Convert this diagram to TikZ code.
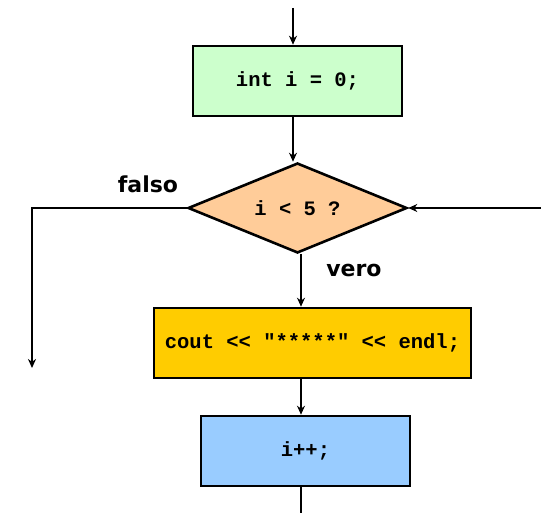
\documentclass[tikz,border=0pt]{standalone}
\usepackage{fontspec}
\setmainfont{DejaVu Sans}
\setmonofont{Liberation Mono}
\usetikzlibrary{shapes.geometric,arrows.meta}

\begin{document}
\begin{tikzpicture}[x=1pt, y=-1pt,
    >={Stealth[length=9pt,width=8pt]},
    stmt/.style={draw, rectangle, line width=2.6pt, minimum height=70pt,
      font=\fontsize{20.5}{23}\selectfont\ttfamily\bfseries},
    test/.style={draw, diamond, aspect=2.4, line width=2.6pt, minimum width=219pt,
      minimum height=90pt, inner sep=0pt,
      font=\fontsize{20.5}{23}\selectfont\ttfamily\bfseries},
    lbl/.style={font=\fontsize{22}{25}\selectfont\bfseries},
    edge/.style={->, line width=2.6pt}]
  \useasboundingbox (0,0) rectangle (541,513);

  \node[stmt, fill={rgb,255:red,204;green,255;blue,204}, minimum width=209pt] (init) at (297.5,81) {int i = 0;};
  \node[test, fill={rgb,255:red,255;green,204;blue,153}] (cond) at (297.5,208) {i < 5 ?};
  \node[stmt, fill={rgb,255:red,255;green,204;blue,0}, minimum width=317pt] (print) at (312.5,343) {cout << "*****" << endl;};
  \node[stmt, fill={rgb,255:red,153;green,204;blue,255}, minimum width=209pt] (inc) at (305.5,451) {i++;};

  \node[lbl] (no) at (148,184) {falso};
  \node[lbl] (yes) at (354,270) {vero};

  \coordinate (top) at (293,8);
  \coordinate (exit) at (32,368);
  \coordinate (back) at (541,208);
  \coordinate (bottom) at (301,513);

  \draw[edge] (top) -- (top |- init.north);
  \draw[edge] (init.south -| top) -- (cond.north -| top);
  \draw[edge] (cond.west) -| (exit);
  \draw[edge] (back) -- (cond.east);
  \draw[edge] (cond.south -| bottom) -- (print.north -| bottom);
  \draw[edge] (print.south -| bottom) -- (inc.north -| bottom);
  \draw[line width=2.6pt] (inc.south -| bottom) -- (bottom);
\end{tikzpicture}
\end{document}
